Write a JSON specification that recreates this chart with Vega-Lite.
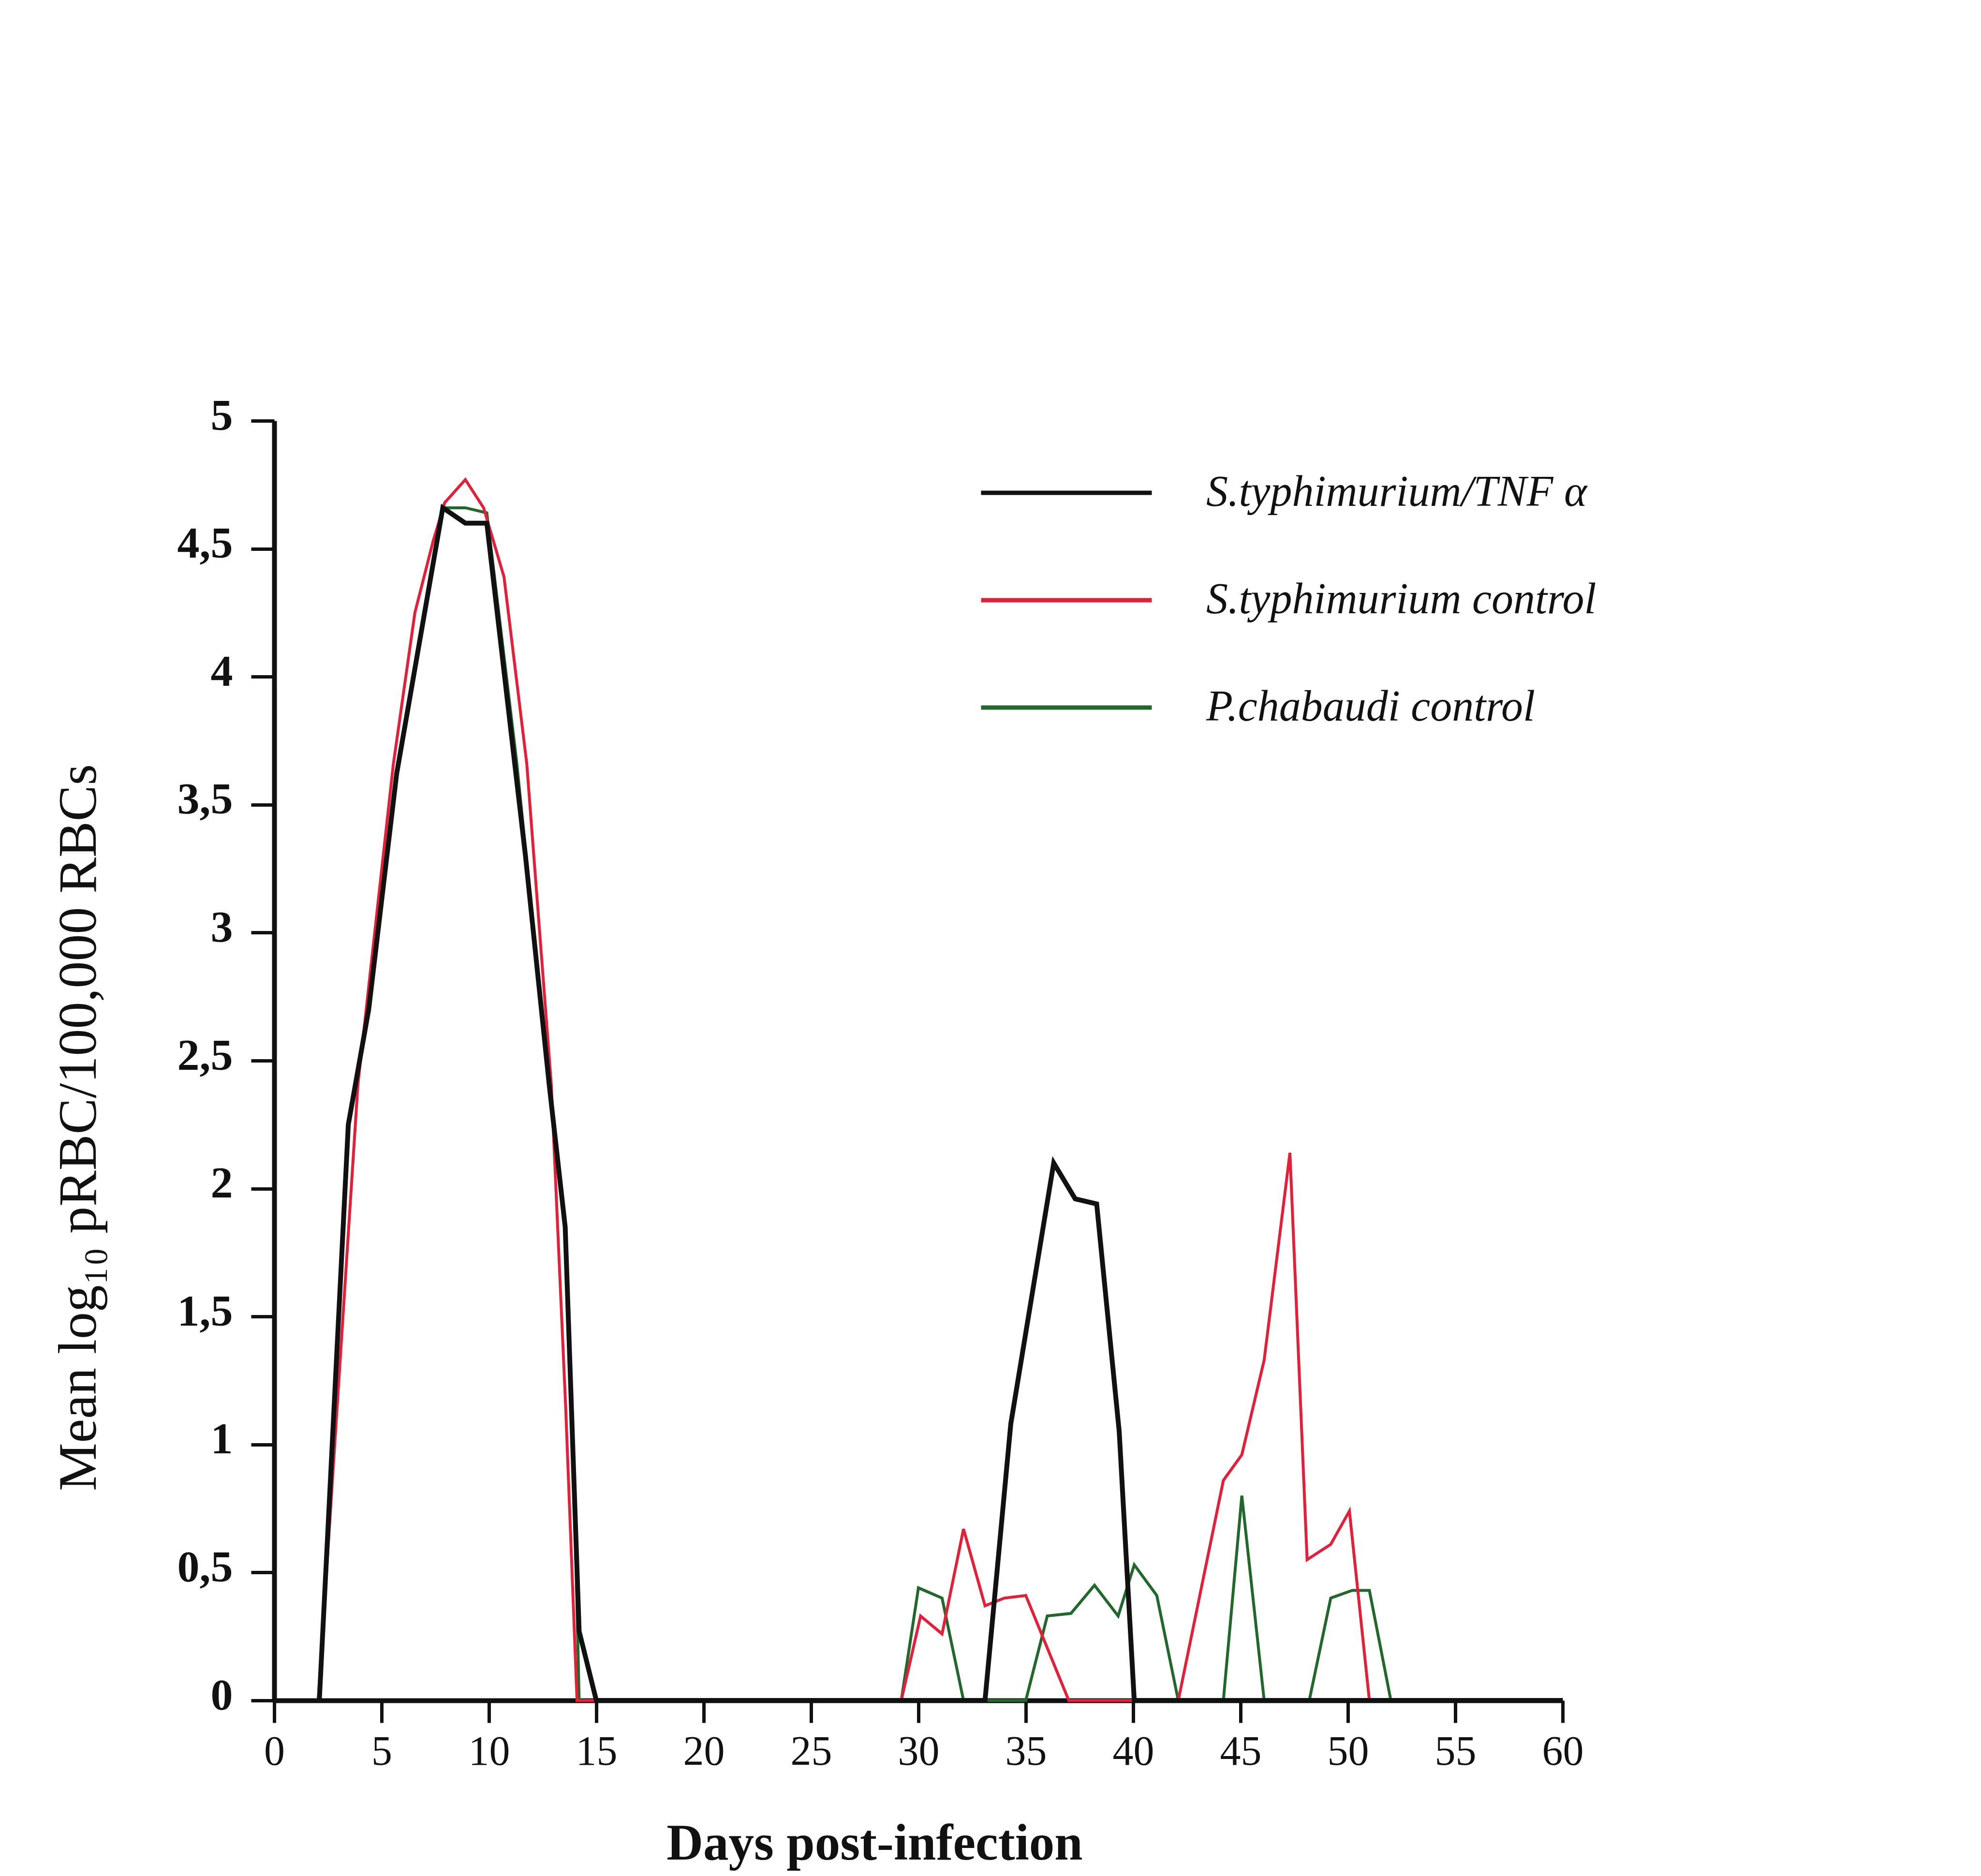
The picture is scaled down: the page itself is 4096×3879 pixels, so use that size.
{
  "$schema": "https://vega.github.io/schema/vega-lite/v6.json",
  "autosize": {"type": "none"},
  "padding": {"left": 567, "top": 870, "right": 865, "bottom": 363},
  "width": 2664,
  "height": 2646,
  "background": "white",
  "config": {"view": {"stroke": null}},
  "data": {"values": [
    {"series": "P.chabaudi control", "day": 2.1, "value": 0},
    {"series": "P.chabaudi control", "day": 3.45, "value": 2.25},
    {"series": "P.chabaudi control", "day": 4.4, "value": 2.7},
    {"series": "P.chabaudi control", "day": 5.7, "value": 3.62},
    {"series": "P.chabaudi control", "day": 7.85, "value": 4.66},
    {"series": "P.chabaudi control", "day": 8.9, "value": 4.66},
    {"series": "P.chabaudi control", "day": 9.9, "value": 4.64},
    {"series": "P.chabaudi control", "day": 11.3, "value": 3.66},
    {"series": "P.chabaudi control", "day": 12.8, "value": 2.41},
    {"series": "P.chabaudi control", "day": 13.55, "value": 1.85},
    {"series": "P.chabaudi control", "day": 14.05, "value": 0.55},
    {"series": "P.chabaudi control", "day": 14.2, "value": 0},
    {"series": "P.chabaudi control", "day": 29.2, "value": 0},
    {"series": "P.chabaudi control", "day": 30.0, "value": 0.44},
    {"series": "P.chabaudi control", "day": 31.1, "value": 0.40},
    {"series": "P.chabaudi control", "day": 32.1, "value": 0},
    {"series": "P.chabaudi control", "day": 35.0, "value": 0},
    {"series": "P.chabaudi control", "day": 36.0, "value": 0.33},
    {"series": "P.chabaudi control", "day": 37.1, "value": 0.34},
    {"series": "P.chabaudi control", "day": 38.2, "value": 0.45},
    {"series": "P.chabaudi control", "day": 39.3, "value": 0.33},
    {"series": "P.chabaudi control", "day": 40.05, "value": 0.53},
    {"series": "P.chabaudi control", "day": 41.1, "value": 0.41},
    {"series": "P.chabaudi control", "day": 42.1, "value": 0},
    {"series": "P.chabaudi control", "day": 44.2, "value": 0},
    {"series": "P.chabaudi control", "day": 45.06, "value": 0.80},
    {"series": "P.chabaudi control", "day": 46.1, "value": 0},
    {"series": "P.chabaudi control", "day": 48.2, "value": 0},
    {"series": "P.chabaudi control", "day": 49.2, "value": 0.40},
    {"series": "P.chabaudi control", "day": 50.2, "value": 0.43},
    {"series": "P.chabaudi control", "day": 51.0, "value": 0.43},
    {"series": "P.chabaudi control", "day": 52.0, "value": 0},

    {"series": "S.typhimurium control", "day": 2.05, "value": 0},
    {"series": "S.typhimurium control", "day": 3.9, "value": 2.41},
    {"series": "S.typhimurium control", "day": 5.55, "value": 3.66},
    {"series": "S.typhimurium control", "day": 6.55, "value": 4.25},
    {"series": "S.typhimurium control", "day": 7.4, "value": 4.53},
    {"series": "S.typhimurium control", "day": 7.94, "value": 4.68},
    {"series": "S.typhimurium control", "day": 8.9, "value": 4.77},
    {"series": "S.typhimurium control", "day": 9.75, "value": 4.66},
    {"series": "S.typhimurium control", "day": 10.7, "value": 4.39},
    {"series": "S.typhimurium control", "day": 11.76, "value": 3.66},
    {"series": "S.typhimurium control", "day": 12.9, "value": 2.41},
    {"series": "S.typhimurium control", "day": 13.57, "value": 1.15},
    {"series": "S.typhimurium control", "day": 14.1, "value": 0},
    {"series": "S.typhimurium control", "day": 29.2, "value": 0},
    {"series": "S.typhimurium control", "day": 30.1, "value": 0.33},
    {"series": "S.typhimurium control", "day": 31.1, "value": 0.26},
    {"series": "S.typhimurium control", "day": 32.1, "value": 0.67},
    {"series": "S.typhimurium control", "day": 33.1, "value": 0.37},
    {"series": "S.typhimurium control", "day": 34.0, "value": 0.40},
    {"series": "S.typhimurium control", "day": 35.0, "value": 0.41},
    {"series": "S.typhimurium control", "day": 37.0, "value": 0},
    {"series": "S.typhimurium control", "day": 42.1, "value": 0},
    {"series": "S.typhimurium control", "day": 44.2, "value": 0.86},
    {"series": "S.typhimurium control", "day": 45.06, "value": 0.96},
    {"series": "S.typhimurium control", "day": 46.1, "value": 1.33},
    {"series": "S.typhimurium control", "day": 47.3, "value": 2.14},
    {"series": "S.typhimurium control", "day": 48.1, "value": 0.55},
    {"series": "S.typhimurium control", "day": 49.2, "value": 0.61},
    {"series": "S.typhimurium control", "day": 50.07, "value": 0.74},
    {"series": "S.typhimurium control", "day": 51.0, "value": 0},

    {"series": "S.typhimurium/TNF α", "day": 2.1, "value": 0},
    {"series": "S.typhimurium/TNF α", "day": 3.45, "value": 2.25},
    {"series": "S.typhimurium/TNF α", "day": 4.4, "value": 2.7},
    {"series": "S.typhimurium/TNF α", "day": 5.7, "value": 3.62},
    {"series": "S.typhimurium/TNF α", "day": 7.85, "value": 4.66},
    {"series": "S.typhimurium/TNF α", "day": 8.9, "value": 4.6},
    {"series": "S.typhimurium/TNF α", "day": 9.9, "value": 4.6},
    {"series": "S.typhimurium/TNF α", "day": 11.2, "value": 3.66},
    {"series": "S.typhimurium/TNF α", "day": 11.7, "value": 3.3},
    {"series": "S.typhimurium/TNF α", "day": 12.8, "value": 2.41},
    {"series": "S.typhimurium/TNF α", "day": 13.55, "value": 1.85},
    {"series": "S.typhimurium/TNF α", "day": 14.2, "value": 0.27},
    {"series": "S.typhimurium/TNF α", "day": 15.0, "value": 0},
    {"series": "S.typhimurium/TNF α", "day": 33.1, "value": 0},
    {"series": "S.typhimurium/TNF α", "day": 34.3, "value": 1.08},
    {"series": "S.typhimurium/TNF α", "day": 36.3, "value": 2.10},
    {"series": "S.typhimurium/TNF α", "day": 37.3, "value": 1.96},
    {"series": "S.typhimurium/TNF α", "day": 38.3, "value": 1.94},
    {"series": "S.typhimurium/TNF α", "day": 39.35, "value": 1.05},
    {"series": "S.typhimurium/TNF α", "day": 40.05, "value": 0},
    {"series": "S.typhimurium/TNF α", "day": 60, "value": 0}
  ]},
  "encoding": {
    "x": {
      "field": "day", "type": "quantitative",
      "scale": {"domain": [0, 60], "nice": false, "zero": false},
      "axis": {
        "title": "Days post-infection",
        "values": [0, 5, 10, 15, 20, 25, 30, 35, 40, 45, 50, 55, 60],
        "grid": false,
        "domainColor": "#111111", "domainWidth": 10,
        "tickColor": "#111111", "tickWidth": 7, "tickSize": 46,
        "labelFont": "Liberation Serif", "labelFontSize": 86, "labelColor": "#111111",
        "labelPadding": 18, "labelFlush": false, "labelOverlap": false,
        "titleFont": "Liberation Serif", "titleFontSize": 105, "titleFontWeight": "bold",
        "titleColor": "#111111", "titleX": 1241, "titleY": 328,
        "titleAlign": "center", "titleBaseline": "alphabetic"
      }
    },
    "y": {
      "field": "value", "type": "quantitative",
      "scale": {"domain": [0, 5], "nice": false},
      "axis": {
        "title": "Mean log₁₀ pRBC/100,000 RBCs",
        "values": [0, 0.5, 1, 1.5, 2, 2.5, 3, 3.5, 4, 4.5, 5],
        "labelExpr": "replace(format(datum.value, '.1~f'), '.', ',')",
        "grid": false,
        "domainColor": "#111111", "domainWidth": 10,
        "tickColor": "#111111", "tickWidth": 7, "tickSize": 48,
        "labelFont": "Liberation Serif", "labelFontSize": 92, "labelFontWeight": "bold",
        "labelColor": "#111111", "labelPadding": 38, "labelOffset": -10,
        "labelOverlap": false, "labelFlush": false,
        "titleFont": "Liberation Serif", "titleFontSize": 112, "titleFontWeight": "normal",
        "titleColor": "#111111", "titleAngle": 270, "titleX": -370, "titleY": 1461,
        "titleAlign": "center", "titleBaseline": "alphabetic"
      }
    },
    "color": {
      "field": "series", "type": "nominal",
      "scale": {
        "domain": ["S.typhimurium/TNF α", "S.typhimurium control", "P.chabaudi control"],
        "range": ["#111111", "#e3203a", "#22682d"]
      },
      "legend": {
        "orient": "none", "legendX": 1457, "legendY": 99,
        "title": null, "padding": 0,
        "symbolType": "stroke", "symbolSize": 124609, "symbolStrokeWidth": 9,
        "clipHeight": 100, "rowPadding": 122,
        "labelFont": "Liberation Serif", "labelFontStyle": "italic", "labelFontSize": 90,
        "labelColor": "#111111", "labelOffset": 108, "labelLimit": 3000
      }
    }
  },
  "layer": [
    {
      "transform": [{"filter": "datum.series === 'P.chabaudi control'"}],
      "mark": {"type": "line", "strokeWidth": 6, "strokeJoin": "miter", "strokeMiterLimit": 4}
    },
    {
      "transform": [{"filter": "datum.series === 'S.typhimurium control'"}],
      "mark": {"type": "line", "strokeWidth": 6, "strokeJoin": "miter", "strokeMiterLimit": 4}
    },
    {
      "transform": [{"filter": "datum.series === 'S.typhimurium/TNF α'"}],
      "mark": {"type": "line", "strokeWidth": 10, "strokeJoin": "miter", "strokeMiterLimit": 4}
    }
  ]
}
